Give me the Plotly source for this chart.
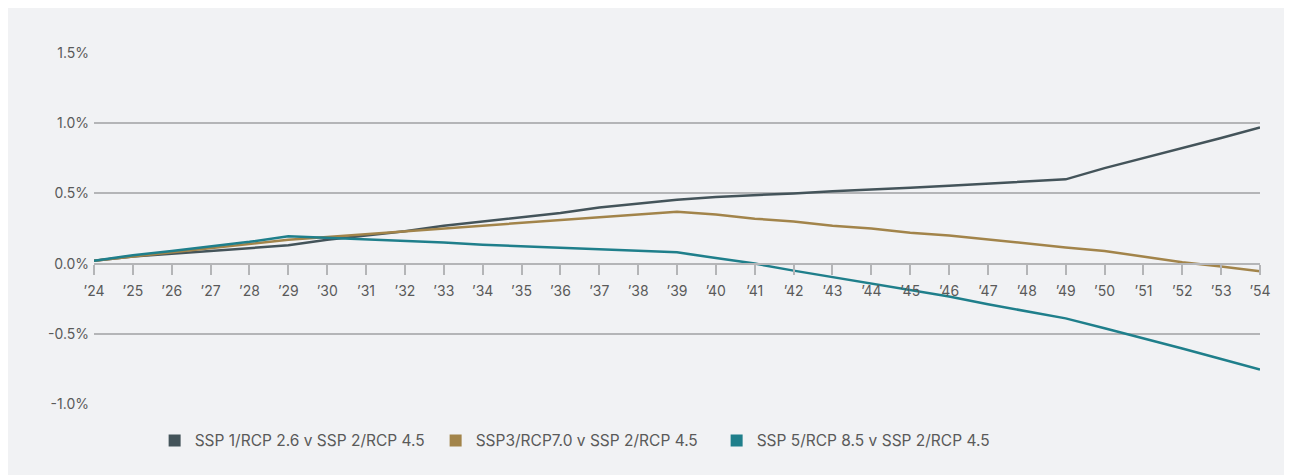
import plotly.graph_objects as go

# --- Data ---
years = list(range(2024, 2055))
year_labels = [f"\u2019{y % 100:02d}" for y in years]

ssp1_vs_ssp2 = [0.02, 0.05, 0.07, 0.09, 0.11, 0.13, 0.17, 0.20, 0.23, 0.27,
                0.30, 0.33, 0.36, 0.40, 0.43, 0.455, 0.475, 0.485, 0.50, 0.515,
                0.525, 0.54, 0.555, 0.57, 0.585, 0.60, 0.68, 0.75, 0.82, 0.895, 0.97]
ssp3_vs_ssp2 = [0.02, 0.05, 0.08, 0.11, 0.14, 0.17, 0.19, 0.21, 0.23, 0.25,
                0.27, 0.29, 0.31, 0.33, 0.35, 0.37, 0.35, 0.32, 0.30, 0.27,
                0.25, 0.22, 0.20, 0.17, 0.145, 0.115, 0.09, 0.05, 0.01, -0.02, -0.055]
ssp5_vs_ssp2 = [0.02, 0.06, 0.09, 0.12, 0.155, 0.195, 0.185, 0.17, 0.16, 0.15,
                0.135, 0.125, 0.115, 0.105, 0.095, 0.08, 0.04, 0.0, -0.05, -0.095,
                -0.14, -0.185, -0.235, -0.29, -0.34, -0.39, -0.46, -0.53, -0.605, -0.68, -0.755]

series_names = [
    "SSP 1/RCP 2.6 v SSP 2/RCP 4.5",
    "SSP3/RCP7.0 v SSP 2/RCP 4.5",
    "SSP 5/RCP 8.5 v SSP 2/RCP 4.5",
]
y_ticks = [-1.0, -0.5, 0.0, 0.5, 1.0, 1.5]

# --- Styling ---
colors = ["#44545a", "#a2844a", "#1f7f8b"]
grid_color = "#b4b5b7"
text_color = "#5a5a5a"
bg = "#f1f2f4"
font_family = "Inter, Lato, sans-serif"

fig = go.Figure()
for name, values, color in zip(series_names, [ssp1_vs_ssp2, ssp3_vs_ssp2, ssp5_vs_ssp2], colors):
    fig.add_trace(go.Scatter(
        x=years, y=values, mode="lines", name=name,
        line=dict(color=color, width=2.5), showlegend=False,
    ))

# square legend swatches
for name, color in zip(series_names, colors):
    fig.add_trace(go.Scatter(
        x=[None], y=[None], mode="markers", name=name,
        marker=dict(symbol="square", size=15, color=color),
    ))

fig.update_layout(
    width=1277,
    height=467,
    margin=dict(l=86, r=25, t=45, b=71),
    paper_bgcolor=bg,
    plot_bgcolor=bg,
    font=dict(family=font_family, size=14, color=text_color),
    showlegend=True,
    legend=dict(
        orientation="h", x=0.052, xanchor="left", y=-0.105, yanchor="middle",
        font=dict(size=15.5, color=text_color), bgcolor="rgba(0,0,0,0)",
        entrywidth=236, itemsizing="constant",
    ),
    xaxis=dict(
        range=[2024, 2054],
        tickmode="array", tickvals=years, ticktext=year_labels,
        anchor="free", position=0.4,
        showgrid=False, zeroline=False,
        showline=True, linecolor=grid_color, linewidth=2,
        ticks="outside", ticklen=10, tickwidth=1.5, tickcolor=grid_color,
        ticklabelstandoff=5,
        tickfont=dict(size=14, color=text_color),
    ),
    yaxis=dict(
        range=[-1.0, 1.5],
        tickmode="array", tickvals=y_ticks,
        ticktext=[f"{v:.1f}%" for v in y_ticks],
        showgrid=True, gridcolor=grid_color, gridwidth=1.5,
        zeroline=False, showline=False, ticks="",
        ticklabelstandoff=4,
        tickfont=dict(size=14, color=text_color),
    ),
)

fig.write_html("out.html")
